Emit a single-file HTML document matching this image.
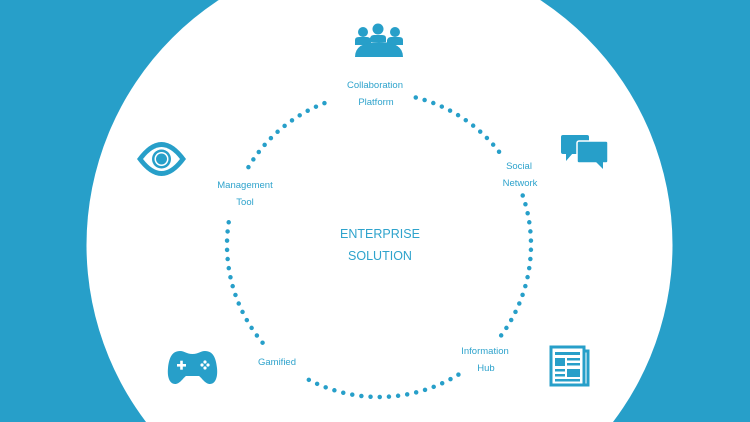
<!DOCTYPE html>
<html><head><meta charset="utf-8"><style>
html,body{margin:0;padding:0;overflow:hidden;width:750px;height:422px}
body{background:#279fc9;position:relative;font-family:"Liberation Sans",sans-serif}
svg{position:absolute;left:0;top:0;display:block}
</style></head><body>
<svg width="750" height="422" viewBox="0 0 750 422">
<circle cx="379.5" cy="245" r="293" fill="#fff"/>
<g id="arcs" fill="none" stroke="#279fc9" stroke-width="4.5" stroke-linecap="round" stroke-dasharray="0 9.2"></g>
<g fill="#2ea3cc" font-size="9.5" text-anchor="middle">
<text x="375" y="88">Collaboration</text><text x="376" y="105">Platform</text>
<text x="519" y="169">Social</text><text x="520" y="186">Network</text>
<text x="245" y="188">Management</text><text x="245" y="205">Tool</text>
<text x="277" y="365">Gamified</text>
<text x="485" y="354">Information</text><text x="486" y="371">Hub</text>
<text x="380" y="238" font-size="12.5">ENTERPRISE</text>
<text x="380" y="260" font-size="12.5">SOLUTION</text>
</g>
<g fill="#279fc9">
<circle cx="363" cy="32" r="5"/><circle cx="378" cy="29" r="5.5"/><circle cx="395" cy="32" r="5"/>
<path d="M355 40 q0-3 4-3 h8 q3 0 4 3 v5 h-16z"/><path d="M387 40 q1-3 4-3 h8 q4 0 4 3 v5 h-16z"/>
<path d="M370 38 q1-3 4-3 h8 q4 0 4 3 v4 h-16z"/>
<path d="M355 57 q0-15 24-15 q24 0 24 15z"/>
</g>
<g fill="#279fc9">
<rect x="561" y="135" width="28" height="19" rx="2"/><path d="M566 153 l0 8 l7 -8z"/>
<rect x="577" y="141" width="31" height="22" rx="2" stroke="#fff" stroke-width="1.5"/><path d="M596 162 l7 7 l0-8z"/>
</g>
<g>
<path d="M137 159 q24.5 -34 49 0 q-24.5 34 -49 0z" fill="#279fc9"/>
<path d="M143 159 q18.5 -24 37 0 q-18.5 24 -37 0z" fill="#fff"/>
<circle cx="161.5" cy="159" r="9.5" fill="#279fc9"/>
<circle cx="161.5" cy="159" r="7" fill="#fff"/>
<circle cx="161.5" cy="159" r="5.5" fill="#279fc9"/>
</g>
<g>
<path d="M180 351 C172 351 169 358 168 368 C167 378 170 384 175 384 C180 384 183 378 186 376 L199 376 C202 378 205 384 210 384 C215 384 218 378 217 368 C216 358 213 351 205 351 C200 351 199 354 192.5 354 C186 354 185 351 180 351Z" fill="#279fc9"/>
<g fill="#fff"><rect x="177" y="364" width="9" height="2.6"/><rect x="180.2" y="360.7" width="2.6" height="9"/>
<circle cx="205" cy="362" r="1.6"/><circle cx="205" cy="368" r="1.6"/><circle cx="202" cy="365" r="1.6"/><circle cx="208" cy="365" r="1.6"/></g>
</g>
<g fill="none" stroke="#279fc9" stroke-width="3">
<rect x="551" y="347" width="33" height="38"/><path d="M584 351 h4 v34 h-37"/>
</g>
<g fill="#279fc9">
<rect x="555" y="352" width="25" height="3"/><rect x="555" y="358" width="10" height="8"/>
<rect x="567" y="358" width="13" height="2.5"/><rect x="567" y="363" width="13" height="2.5"/>
<rect x="555" y="369" width="10" height="2.5"/><rect x="555" y="374" width="10" height="2.5"/>
<rect x="567" y="369" width="13" height="8"/><rect x="555" y="379" width="25" height="2.5"/>
</g>
</svg>
<script>
var cx=379,cy=245,r=152,g=document.getElementById('arcs');
[[-76,-37],[-19,36.7],[58.5,119],[140,190],[210.8,252.4]].forEach(function(a){
 var s=a[0]*Math.PI/180,e=a[1]*Math.PI/180;
 var p=document.createElementNS('http://www.w3.org/2000/svg','path');
 p.setAttribute('d','M'+(cx+r*Math.cos(s))+' '+(cy+r*Math.sin(s))+' A'+r+' '+r+' 0 0 1 '+(cx+r*Math.cos(e))+' '+(cy+r*Math.sin(e)));
 g.appendChild(p);
});
</script>
</body></html>
